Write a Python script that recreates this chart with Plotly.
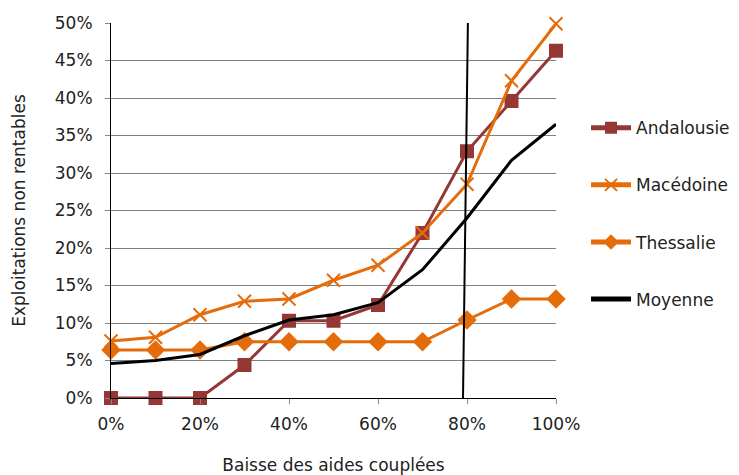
import plotly.graph_objects as go

# Baisse des aides couplées (fraction)
baisse = [0.0, 0.1, 0.2, 0.3, 0.4, 0.5, 0.6, 0.7, 0.8, 0.9, 1.0]

# Part des exploitations non rentables
andalousie = [0.0, 0.0, 0.0, 0.044, 0.103, 0.103, 0.124, 0.220, 0.329, 0.396, 0.463]
macedoine = [0.076, 0.081, 0.111, 0.129, 0.132, 0.157, 0.177, 0.220, 0.285, 0.423, 0.499]
thessalie = [0.064, 0.064, 0.064, 0.075, 0.075, 0.075, 0.075, 0.075, 0.104, 0.132, 0.132]
moyenne = [0.046, 0.050, 0.058, 0.083, 0.104, 0.111, 0.127, 0.171, 0.240, 0.317, 0.365]

# Repère vertical (seuil ~80 %)
seuil_x = [0.791, 0.802]
seuil_y = [0.0, 0.5]

ORANGE = "#E46C0A"
BRIQUE = "#953735"
FONT = "DejaVu Sans, Verdana, sans-serif"

fig = go.Figure()

fig.add_trace(go.Scatter(
    x=baisse, y=andalousie, name="Andalousie", mode="lines+markers",
    legendgroup="a", cliponaxis=False,
    line=dict(color=BRIQUE, width=3),
    marker=dict(symbol="square", size=14, color=BRIQUE),
))
fig.add_trace(go.Scatter(
    x=baisse, y=macedoine, name="Macédoine", mode="lines+markers",
    legendgroup="m", cliponaxis=False,
    line=dict(color=ORANGE, width=3),
    marker=dict(symbol="x-thin-open", size=13, color=ORANGE,
                line=dict(color=ORANGE, width=2)),
))
fig.add_trace(go.Scatter(
    x=baisse, y=thessalie, name="Thessalie", mode="lines+markers",
    legendgroup="t", cliponaxis=False,
    line=dict(color=ORANGE, width=3),
    marker=dict(symbol="diamond", size=15, color=ORANGE),
))
fig.add_trace(go.Scatter(
    x=baisse, y=moyenne, name="Moyenne", mode="lines",
    legendgroup="y", cliponaxis=False,
    line=dict(color="black", width=3),
))
fig.add_trace(go.Scatter(
    x=seuil_x, y=seuil_y, mode="lines", showlegend=False,
    hoverinfo="skip",
    line=dict(color="black", width=2),
))

fig.update_layout(
    width=739, height=475,
    margin=dict(l=111, r=183, t=23, b=77, autoexpand=False),
    paper_bgcolor="white", plot_bgcolor="white",
    font=dict(family=FONT, size=17, color="#222222"),
    legend=dict(
        xref="container", yref="container",
        x=0.793, xanchor="left", y=0.768, yanchor="top",
        font=dict(size=17, color="#222222"),
        tracegroupgap=32,
        itemwidth=40,
        itemsizing="constant",
        bgcolor="rgba(0,0,0,0)",
    ),
    xaxis=dict(
        range=[0, 1], tickvals=[0, 0.2, 0.4, 0.6, 0.8, 1.0], tickformat=".0%",
        showgrid=False, zeroline=False,
        showline=True, linecolor="black", linewidth=1,
        ticks="outside", ticklen=5, tickcolor="#888888",
        ticklabelstandoff=6, automargin=False,
        title=dict(text="Baisse des aides couplées", standoff=30,
                   font=dict(size=17)),
        fixedrange=True,
    ),
    yaxis=dict(
        range=[0, 0.5], dtick=0.05, tickformat=".0%",
        showgrid=True, gridcolor="#7f7f7f", gridwidth=1,
        zeroline=False,
        showline=True, linecolor="black", linewidth=1,
        ticks="outside", ticklen=5, tickcolor="#888888",
        ticklabelstandoff=9, automargin=False,
        title=dict(text="Exploitations non rentables", standoff=24,
                   font=dict(size=17)),
        fixedrange=True,
    ),
)

fig.write_html("out.html")
